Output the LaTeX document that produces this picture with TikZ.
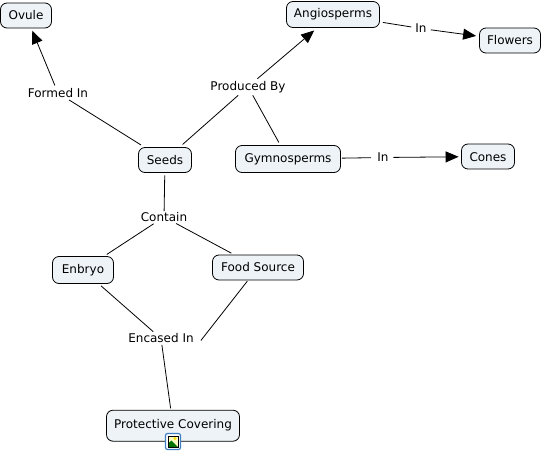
\documentclass[tikz,border=0pt]{standalone}
\usepackage{fontspec}
\setmainfont{DejaVu Sans}
\usetikzlibrary{arrows.meta,calc}
\definecolor{boxfill}{HTML}{EDF3F6}
\definecolor{iconblue}{HTML}{3F7FC4}
\tikzset{
  x=1pt,y=-1pt,
  concept/.style={draw=black,fill=boxfill,rounded corners=6.5pt,line width=0.8pt,font=\fontsize{12}{14}\selectfont,inner sep=0pt,anchor=center},
  linkname/.style={font=\fontsize{12}{14}\selectfont,inner sep=0pt,anchor=center},
  conn/.style={line width=0.8pt,black},
  arr/.style={conn,-{Triangle[length=13pt,width=11pt]}}
}
\begin{document}
\begin{tikzpicture}
\useasboundingbox (0,0) rectangle (543,453);
\node[concept,minimum width=51pt,minimum height=25pt] (ovule) at (26,15.5) {Ovule};
\node[concept,minimum width=93pt,minimum height=26pt] (angio) at (333,14.5) {Angiosperms};
\node[concept,minimum width=61pt,minimum height=25pt] (flowers) at (510,40.5) {Flowers};
\node[concept,minimum width=53pt,minimum height=25pt,text height=10pt] (seeds) at (165,160) {Seeds};
\node[concept,minimum width=105pt,minimum height=27pt] (gymno) at (288,159) {Gymnosperms};
\node[concept,minimum width=53pt,minimum height=25pt,text height=10pt] (cones) at (488,156.5) {Cones};
\node[concept,minimum width=61pt,minimum height=27pt] (enbryo) at (83,270) {Enbryo};
\node[concept,minimum width=91pt,minimum height=25pt] (food) at (258,267.5) {Food Source};
\node[concept,minimum width=133pt,minimum height=31pt,text depth=3.5pt] (prot) at (173,425.7) {Protective Covering};
\node[linkname] (formed) at (58,93) {Formed In};
\node[linkname] (produced) at (248,86.7) {Produced By};
\node[linkname] (in1) at (421,28.5) {In};
\node[linkname] (in2) at (383,157.5) {In};
\node[linkname] (contain) at (164,217) {Contain};
\node[linkname] (encased) at (161,338.5) {Encased In};
\draw[iconblue,line width=1.2pt,rounded corners=2pt,fill=white] (165.5,433.5) rectangle (180.5,449.5);
\fill[yellow!25!white] (168,436) rectangle (178,447);
\fill[yellow!80!orange] (175,438.5) circle (1.6);
\fill[green!45!black] (168,447) -- (168,443.5) -- (171.5,440.5) -- (178,447) -- cycle;
\draw[black,line width=0.5pt] (168,436) rectangle (178,447);
\draw[conn,shorten <=4pt,shorten >=4pt] (seeds) -- (formed);
\draw[arr,shorten <=3pt,shorten >=2.5pt] (formed) -- (ovule);
\draw[conn,shorten <=4pt,shorten >=4pt] (seeds) -- (produced);
\draw[arr,shorten <=3pt,shorten >=4pt] (produced) -- (angio);
\draw[conn,shorten <=3pt,shorten >=3pt] (gymno) -- (produced);
\draw[conn,shorten <=3pt,shorten >=4pt] (angio) -- (in1);
\draw[arr,shorten <=4pt,shorten >=3pt] (in1) -- (flowers);
\draw[conn,shorten <=1pt,shorten >=6pt] (gymno) -- (in2);
\draw[arr,shorten <=4.5pt,shorten >=2.5pt] (in2) -- (cones);
\draw[conn,shorten <=2.5pt,shorten >=1pt] (seeds) -- (contain);
\draw[conn,shorten <=3.5pt,shorten >=3pt] (contain) -- (enbryo);
\draw[conn,shorten <=3.5pt,shorten >=3pt] (contain) -- (food);
\draw[conn,shorten <=3pt,shorten >=3pt] (enbryo) -- (encased);
\draw[conn,shorten <=1pt] (food) -- ($(encased.east)+(7,2)$);
\draw[conn,shorten <=1.5pt,shorten >=1.5pt] (encased) -- (prot);
\end{tikzpicture}
\end{document}
